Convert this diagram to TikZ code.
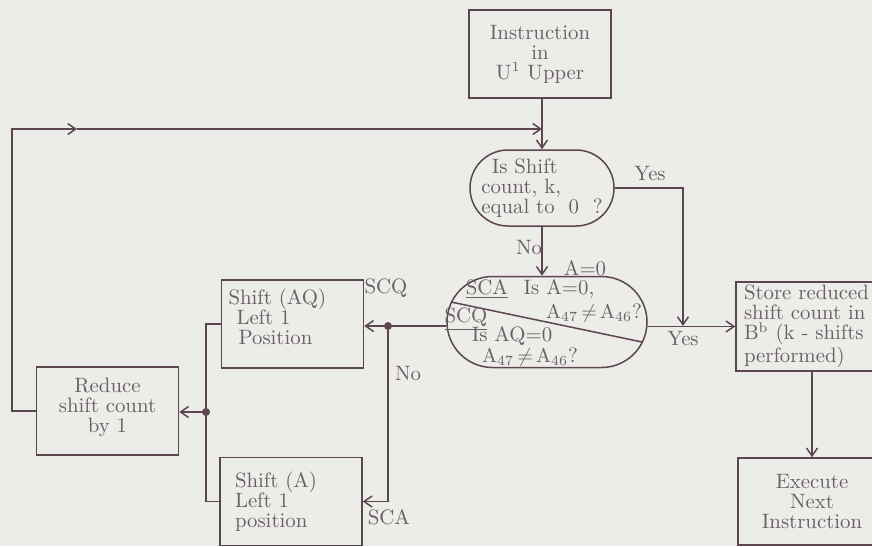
\documentclass[tikz,border=0pt]{standalone}
\usetikzlibrary{arrows.meta}
\definecolor{ink}{RGB}{92,70,80}
\definecolor{inktext}{RGB}{105,95,100}
\definecolor{paper}{RGB}{236,236,233}

\newcommand{\nequal}{$\mathrm{A}_{47}\,{\neq}\,\mathrm{A}_{46}$}

\begin{document}
\begin{tikzpicture}[
    x=0.5pt, y=-0.5pt,
    every node/.style={font=\fontsize{10.4}{10}\selectfont, text=inktext},
    box/.style={
        rectangle,
        draw=ink,
        line width=0.75pt,
        inner sep=0pt,
        minimum width=71pt,
        minimum height=44pt
    },
    decision/.style={rectangle, draw=ink, line width=0.75pt, inner sep=0pt},
    wire/.style={draw=ink, line width=0.75pt},
    flow/.style={wire, -{Straight Barb[length=4pt,width=5.5pt]}},
    tag/.style={inner sep=0pt},
    joint/.style={circle, fill=ink, inner sep=0pt, minimum size=4pt}
]
    \useasboundingbox (0,0) rectangle (872,546);
    \clip (0,0) rectangle (872,546);
    \fill[paper] (0,0) rectangle (872,546);

    % Riquadri
    \node[box, align=center] (instr) at (540,54) {Instruction\\in\\U$^1$ Upper};
    \node[decision, rounded corners=19pt, minimum width=72pt, minimum height=38pt, align=left]
         (zero) at (542,188) {\enspace Is Shift\\count,\ k,\\equal to\ \ 0\ \ ?};
    \node[decision, rounded corners=22.75pt, minimum width=100pt, minimum height=45.5pt]
         (test) at (547,322) {};
    \node[box, align=left, text width=64pt] (shiftaq) at (292.5,324)
         {Shift (AQ)\\\hspace{4pt}Left 1\\\hspace{5pt}Position\\[-3pt]~};
    \node[box, align=left, text width=56pt] (shifta) at (291,501.5)
         {Shift (A)\\Left 1\\position};
    \node[box, align=center] (reduce) at (107.5,411) {Reduce\\shift count\\by 1\\[-4pt]~};
    \node[box, minimum width=76pt, minimum height=44.5pt, align=left, text width=68pt]
         (store) at (812,326.5) {Store reduced\\shift count in\\B$^{\mathrm b}$ (k - shifts\\performed)};
    \node[box, minimum width=74pt, minimum height=43.5pt, align=center]
         (exec) at (812,501.5) {Execute\\Next\\Instruction};

    % Testo nel secondo test
    \draw[wire] (451,302) -- (642,342);
    \node[tag] (aeq) at (585,268) {A=0};
    \node[tag] (scatag) at (487,289) {\underline{SCA}};
    \node[tag] (isa) at (559,289) {Is A=0,};
    \node[tag] (signa) at (594,313) {\nequal?};
    \node[tag] (scqtag) at (466,319) {\underline{SCQ}};
    \node[tag] (isaq) at (512,336) {Is AQ=0};
    \node[tag] (signaq) at (530,357) {\nequal?};

    % Punti di giunzione
    \coordinate (merge) at (542,129);
    \coordinate (loopcorner) at (12,129);
    \coordinate (looptip) at (77,129);
    \coordinate (yesdrop) at (683,326);
    \coordinate (split) at (388,326);
    \coordinate (fanout) at (206,412);

    % Connessioni
    \draw[flow] (instr.south -| zero.north) -- (zero.north);
    \draw[flow] (reduce.west) -| (loopcorner) -- (looptip);
    \draw[flow] (looptip) -- (merge);
    \draw[flow] (zero.east) -| (yesdrop);
    \draw[flow] (zero.south) -- (zero.south |- test.north);
    \draw[flow] (test.east |- store.west) -- (store.west);
    \draw[wire] (test.west |- split) -- (split);
    \draw[flow] (split) -- (split -| shiftaq.east);
    \draw[flow] (split) |- (shifta.east);
    \draw[wire] (shiftaq.west) -| (fanout);
    \draw[wire] (shifta.west) -| (fanout);
    \draw[flow] (fanout) -- (fanout -| reduce.east);
    \draw[flow] (store.south) -- (exec.north);
    \node[joint] (splitdot) at (split) {};
    \node[joint] (fandot) at (fanout) {};

    % Etichette
    \node[tag] (yestop) at (650,174) {Yes};
    \node[tag] (notop) at (529,248) {No};
    \node[tag] (yesbot) at (683,339) {Yes};
    \node[tag] (scqout) at (386,288) {SCQ};
    \node[tag] (noleft) at (408,374) {No};
    \node[tag] (scaout) at (389,517) {SCA};
\end{tikzpicture}
\end{document}
